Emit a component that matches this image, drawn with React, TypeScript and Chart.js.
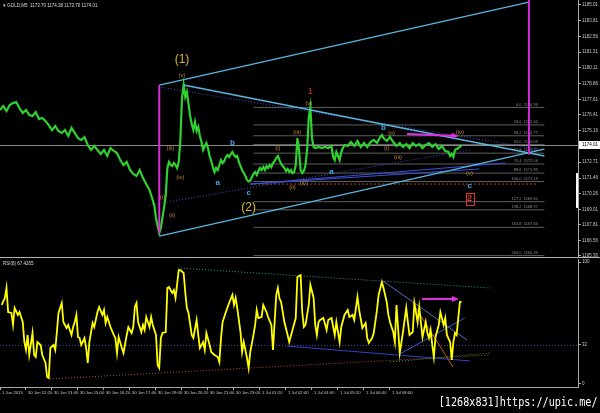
import React, { useEffect, useRef } from 'react';
import { Chart, registerables } from 'chart.js';

Chart.register(...registerables);

// ---------------- data ----------------
const symbolName = 'GOLD,M5';
const lastOhlc = [1173.7, 1174.38, 1173.7, 1174.01];
const rsiName = 'RSI(8)';
const rsiLast = 67.4265;

const priceBars = [0,2,4,6,8,10,12,14,16,18,20,22,24,26,28,30,32,34,36,38,40,42,44,46,48,50,52,54,56,58,60,62,64,66,68,70,72,74,76,78,80,82,84,86,88,90,92,94,95,96,97,98,99,100,101,102,103,104,105,106,107,108,109,110,111,112,113,114,115,116,117,118,119,120,121,122,123,124,125,126,127,128,129,130,131,132,133,134,135,136,137,138,139,140,141,142,143,144,145,146,147,148,149,150,151,152,153,154,155,156,157,158,159,160,161,162,163,164,165,166,167,168,169,170,171,172,173,174,175,176,177,178,179,180,181,182,183,184,185,186,187,188,189,190,191,192,193,194,196,198,200,202,204,205,206,207,208,209,210,211,212,214,216,218,220,222,224,226,228,230,232,234,235,236,238,240,242,244,246,248,250,252,254,256,258,260,262,264,266,268,270,272,274,276,277,278,279,280,282,284];
const priceClose = [1176.79,1177.10,1176.71,1177.18,1177.33,1177.41,1176.94,1176.55,1176.79,1176.40,1176.32,1176.63,1176.08,1176.16,1175.93,1175.61,1175.22,1175.53,1175.14,1174.99,1175.22,1174.75,1175.38,1174.99,1174.59,1174.44,1174.67,1174.05,1173.66,1173.97,1173.66,1173.34,1173.66,1173.19,1173.81,1173.58,1173.42,1172.87,1172.48,1172.72,1172.09,1171.78,1171.62,1172.09,1171.46,1170.99,1170.52,1169.74,1169.27,1168.33,1167.70,1167.16,1167.55,1168.41,1169.19,1170.13,1172.25,1172.72,1172.48,1172.40,1172.64,1172.48,1172.25,1172.72,1174.44,1177.73,1178.74,1177.81,1178.20,1177.26,1176.32,1175.69,1175.22,1175.85,1175.14,1175.46,1174.75,1174.28,1173.66,1173.97,1174.20,1173.81,1173.19,1172.79,1172.32,1171.93,1172.25,1172.09,1172.48,1172.87,1172.64,1172.79,1173.11,1173.26,1173.11,1173.34,1173.50,1173.26,1173.11,1173.19,1172.72,1172.40,1172.09,1171.85,1171.62,1171.31,1171.19,1171.25,1171.54,1171.78,1171.93,1171.70,1172.01,1172.25,1172.09,1172.32,1172.09,1172.40,1172.25,1172.48,1172.32,1172.64,1172.79,1173.03,1173.19,1172.87,1172.56,1172.40,1172.25,1172.01,1172.17,1171.93,1172.09,1171.85,1171.93,1172.48,1174.59,1173.66,1172.09,1171.85,1172.01,1172.48,1173.66,1176.16,1176.99,1174.59,1173.89,1173.81,1173.89,1173.81,1173.89,1173.81,1173.97,1173.11,1172.87,1173.50,1173.19,1172.87,1173.50,1173.81,1174.05,1173.97,1174.28,1173.97,1174.36,1173.89,1174.20,1173.89,1174.28,1174.44,1174.20,1174.67,1174.83,1174.59,1174.36,1174.67,1174.28,1173.97,1174.20,1173.89,1174.12,1173.81,1174.20,1173.97,1174.12,1173.81,1174.05,1174.20,1173.89,1174.12,1173.73,1173.97,1173.58,1173.50,1173.19,1173.34,1173.11,1173.66,1173.81,1174.01];

const rsiBars = [1,3,4,5,7,8,9,11,12,14,15,16,17,18,20,21,22,23,25,26,28,29,30,31,33,34,35,36,38,39,41,42,44,45,46,47,48,49,50,52,53,54,55,57,58,60,61,63,64,65,66,68,70,71,72,73,75,76,78,79,81,82,83,84,85,87,88,89,90,92,93,94,96,97,98,99,100,102,103,104,106,107,108,110,111,113,114,115,116,118,119,121,122,123,125,126,127,129,130,132,134,135,136,137,139,141,143,144,145,146,148,149,150,152,153,154,156,157,158,159,161,162,164,165,167,168,169,170,171,172,173,175,177,178,180,182,183,185,186,187,188,190,191,193,194,195,196,197,199,201,202,204,206,207,209,210,212,214,215,217,218,220,221,223,225,226,227,229,230,232,233,235,236,238,239,240,242,243,244,246,248,249,250,251,252,254,255,257,258,259,260,262,263,264,265,266,267,268,270,271,273,274,275,277,278,279,280,281,283,284];
const rsiValues = [64.8,70.5,78.7,59.0,58.2,48.4,62.3,56.6,59.0,50.8,34.4,27.9,40.2,23.8,41.8,23.8,22.1,34.4,32.0,23.8,17.2,5.7,4.9,29.5,32.0,27.9,42.6,58.2,66.4,50.8,45.9,48.4,40.2,46.7,50.8,56.6,38.5,37.7,32.0,37.7,29.5,17.2,34.4,50.0,46.7,59.0,63.1,56.6,60.7,50.0,54.9,46.7,40.2,37.7,25.4,38.5,29.5,25.4,40.2,46.7,41.8,46.7,63.1,66.4,50.8,42.6,48.4,44.3,54.9,46.7,54.9,48.4,40.2,15.6,13.1,37.7,41.8,42.6,78.7,79.5,74.6,77.0,70.5,93.4,93.4,91.0,75.4,62.3,58.2,40.2,37.7,52.5,40.2,29.5,34.4,27.9,41.8,32.0,26.2,23.8,22.1,18.0,37.7,50.8,59.0,66.4,73.0,64.8,70.5,62.3,42.6,26.2,34.4,21.3,13.1,26.2,40.2,48.4,60.7,54.1,54.9,64.8,59.0,54.9,48.4,27.9,50.8,73.0,78.7,70.0,67.2,50.8,40.2,34.4,44.3,54.1,87.7,89.3,59.0,46.7,48.4,64.8,81.1,70.5,48.4,40.2,50.8,52.5,54.1,44.3,52.5,54.1,40.2,50.8,34.4,46.7,56.6,60.7,54.9,56.6,52.5,71.3,60.7,45.9,50.0,37.7,33.6,37.7,41.8,60.7,73.0,83.6,78.7,67.2,56.6,50.8,42.6,34.4,64.8,25.4,42.6,52.5,62.3,50.8,40.2,42.6,66.4,50.8,63.1,50.8,38.5,50.8,41.8,37.7,44.3,32.0,22.1,38.5,48.4,59.0,48.4,54.1,40.2,34.4,19.7,34.4,41.8,40.2,67.2,67.4265];

const timeTickBars = [0,16,32,48,64,80,96,112,128,144,160,176,192,208,224,240];
const timeTickLabels = ['1 Jun 2015','30 Jun 12:20','30 Jun 13:40','30 Jun 15:00','30 Jun 16:20','30 Jun 17:40','30 Jun 19:00','30 Jun 20:20','30 Jun 21:40','30 Jun 23:00','1 Jul 01:20','1 Jul 02:40','1 Jul 04:00','1 Jul 05:20','1 Jul 06:40','1 Jul 08:00'];

const priceTicks = [1185.01,1183.81,1182.56,1181.31,1180.11,1178.86,1177.61,1176.41,1175.16,1172.71,1171.46,1170.26,1169.01,1167.81,1166.56,1165.36];
const rsiTicks = [100, 32, 0];
const rsiLevel = 32;

const fibPercents = ['0.0','23.6','38.2','50.0','61.8','76.4','88.6','100.0','127.2','138.2','161.8','200.0'];
const fibPrices = [1176.99,1175.62,1174.77,1174.09,1173.41,1172.56,1171.85,1171.19,1169.61,1168.97,1167.60,1165.39];

const waveTexts = ['(1)','(v)','(iii)','(iv)','(i)','(ii)','a','b','c','(2)','(i)','(ii)','(iii)','(iv)','(v)','1','a','b','(ii)','(i)','(iii)','(iv)','(v)','c','2'];
const waveBars = [112,112,105,111,100,106,134,143,153,153,171,180,183,187,190,191,204,236,241,238,245,283,289,289,289];
const wavePrices = [1180.70,1179.53,1173.81,1171.54,1169.97,1168.57,1171.07,1174.20,1170.29,1169.11,1173.81,1170.76,1175.06,1171.07,1177.33,1178.27,1171.93,1175.38,1174.99,1173.81,1173.11,1175.06,1171.85,1170.84,1169.82];
const waveDegrees = ['primary','minuette','minuette','minuette','minuette','minuette','abc','abc','abc','primary','minuette','minuette','minuette','minuette','minuette','minor','abc','abc','minuette','minuette','minuette','minuette','minuette','abc','minorBox'];

// trend objects in data units [bar1, value1, bar2, value2]
const wedgeUpper = [98, 1178.74, 325.5, 1185.24];
const wedgeTop = [113, 1178.74, 335, 1173.19];
const wedgeLower = [98, 1166.92, 335, 1173.73];
const channelDotUpper = [98, 1178.59, 335, 1173.66];
const channelDotLower = [92, 1169.35, 289, 1173.66];
const blueLineA = [154, 1170.99, 311, 1172.64];
const blueLineB = [154, 1170.99, 295, 1172.17];
const lowLevel = [154, 1170.99, 330, 1170.99];
const magentaLeft = [98, 1178.74, 98, 1167.16];
const magentaRight = [325.5, 1185.4, 325.5, 1173.3];
const priceArrow = [250.5, 1174.91, 281, 1174.75];
const axisMarkerRange = [1171.85, 1169.12];

const rsiTealDotted = [109.5, 95.1, 301.5, 78.7];
const rsiOrangeDotted = [30.8, 4.1, 301.5, 23.8];
const rsiGreenDotted = [240, 18.0, 301.5, 25.4];
const rsiBlueSolid = [176.6, 31.1, 289.2, 18.9];
const rsiSteelLine = [235.7, 84.4, 287.4, 36.1];
const rsiBlueRising = [246, 24.6, 286, 54.1];
const rsiOrangeSolid = [254, 66.4, 278.8, 13.9];
const rsiArrow = [259.7, 69.7, 281.2, 69.7];

// ---------------- layout / style ----------------
const X_MAX = 355.7;
const PRICE_MIN = 1165.28;
const PRICE_MAX = 1185.4;
const RSI_MIN = -2.46;
const RSI_MAX = 102.46;
const FIB_START = 156;
const FIB_END = 335;
const FIB_LABEL = 331;
const AXIS_COLOR = '#a8a8a8';
const TEXT_COLOR = '#c8c8c8';
const FONT = 'Liberation Sans';

const waveStyles: Record<string, { color: string; size: number; bold: boolean }> = {
  primary: { color: '#d9b43a', size: 12, bold: false },
  minuette: { color: '#c0843a', size: 6, bold: false },
  abc: { color: '#3fa9e6', size: 8, bold: true },
  minor: { color: '#e23030', size: 9, bold: false },
  minorBox: { color: '#e23030', size: 9, bold: true },
};

function toPx(chart: any, x: number, y: number) {
  return [chart.scales.x.getPixelForValue(x), chart.scales.y.getPixelForValue(y)];
}

function drawSeg(chart: any, s: number[], color: string, width: number, dash: number[] = []) {
  const ctx = chart.ctx;
  const a = chart.chartArea;
  const [x1, y1] = toPx(chart, s[0], s[1]);
  const [x2, y2] = toPx(chart, s[2], s[3]);
  ctx.save();
  ctx.beginPath();
  ctx.rect(a.left, a.top, a.right - a.left, a.bottom - a.top);
  ctx.clip();
  ctx.strokeStyle = color;
  ctx.lineWidth = width;
  ctx.setLineDash(dash);
  ctx.beginPath();
  ctx.moveTo(x1, y1);
  ctx.lineTo(x2, y2);
  ctx.stroke();
  ctx.restore();
}

function drawArrow(chart: any, s: number[], color: string) {
  const ctx = chart.ctx;
  const [x1, y1] = toPx(chart, s[0], s[1]);
  const [x2, y2] = toPx(chart, s[2], s[3]);
  const ang = Math.atan2(y2 - y1, x2 - x1);
  ctx.save();
  ctx.strokeStyle = color;
  ctx.fillStyle = color;
  ctx.lineWidth = 2;
  ctx.beginPath();
  ctx.moveTo(x1, y1);
  ctx.lineTo(x2 - 4 * Math.cos(ang), y2 - 4 * Math.sin(ang));
  ctx.stroke();
  ctx.beginPath();
  ctx.moveTo(x2 + 2 * Math.cos(ang), y2 + 2 * Math.sin(ang));
  ctx.lineTo(x2 - 5 * Math.cos(ang) - 3 * Math.sin(ang), y2 - 5 * Math.sin(ang) + 3 * Math.cos(ang));
  ctx.lineTo(x2 - 5 * Math.cos(ang) + 3 * Math.sin(ang), y2 - 5 * Math.sin(ang) - 3 * Math.cos(ang));
  ctx.closePath();
  ctx.fill();
  ctx.restore();
}

const mainOverlay = {
  id: 'mainOverlay',
  beforeDatasetsDraw(chart: any) {
    const ctx = chart.ctx;
    const a = chart.chartArea;
    const ys = chart.scales.y;
    const xs = chart.scales.x;
    // fibonacci levels
    fibPrices.forEach((p, i) => {
      drawSeg(chart, [FIB_START, p, FIB_END, p], '#5e5e5e', 1);
      ctx.save();
      ctx.fillStyle = '#8c8c8c';
      ctx.font = `4px ${FONT}`;
      ctx.textAlign = 'right';
      ctx.textBaseline = 'bottom';
      ctx.fillText(`${fibPercents[i]}  ${p.toFixed(2)}`, xs.getPixelForValue(FIB_LABEL), ys.getPixelForValue(p) - 1);
      ctx.restore();
    });
    // bid line
    const yb = Math.round(ys.getPixelForValue(lastOhlc[3])) + 0.5;
    ctx.save();
    ctx.strokeStyle = '#8a8a8a';
    ctx.lineWidth = 1;
    ctx.beginPath();
    ctx.moveTo(a.left, yb);
    ctx.lineTo(a.right, yb);
    ctx.stroke();
    ctx.restore();
    drawSeg(chart, lowLevel, '#b0501e', 1, [2, 2]);
    drawSeg(chart, channelDotUpper, '#4650c0', 1, [1, 2]);
    drawSeg(chart, channelDotLower, '#4650c0', 1, [1, 2]);
  },
  afterDatasetsDraw(chart: any) {
    const ctx = chart.ctx;
    const ys = chart.scales.y;
    const xs = chart.scales.x;
    drawSeg(chart, blueLineA, '#3c4fd8', 1);
    drawSeg(chart, blueLineB, '#3c4fd8', 1);
    drawSeg(chart, wedgeUpper, '#58b6df', 1.2);
    drawSeg(chart, wedgeTop, '#58b6df', 1.6);
    drawSeg(chart, wedgeLower, '#58b6df', 1.2);
    drawSeg(chart, magentaLeft, '#d82ad8', 2);
    drawSeg(chart, magentaRight, '#d82ad8', 2);
    drawArrow(chart, priceArrow, '#e030e0');
    // wave labels
    waveTexts.forEach((t, i) => {
      const st = waveStyles[waveDegrees[i]];
      const x = xs.getPixelForValue(waveBars[i]);
      const y = ys.getPixelForValue(wavePrices[i]);
      ctx.save();
      ctx.font = `${st.bold ? 'bold ' : ''}${st.size}px ${FONT}`;
      ctx.fillStyle = st.color;
      ctx.textAlign = 'center';
      ctx.textBaseline = 'middle';
      ctx.fillText(t, x, y);
      if (waveDegrees[i] === 'minorBox') {
        ctx.strokeStyle = st.color;
        ctx.lineWidth = 1;
        ctx.strokeRect(Math.round(x - 4) + 0.5, Math.round(y - 6) + 0.5, 8, 12);
      }
      ctx.restore();
    });
    // title
    ctx.save();
    ctx.fillStyle = '#dcdcdc';
    ctx.font = `4.5px ${FONT}`;
    ctx.textAlign = 'left';
    ctx.textBaseline = 'middle';
    ctx.fillText(`\u25BE ${symbolName}  ${lastOhlc.map((v) => v.toFixed(2)).join(' ')}`, 3, 6);
    ctx.restore();
  },
  afterDraw(chart: any) {
    const ctx = chart.ctx;
    const a = chart.chartArea;
    const ys = chart.scales.y;
    const y = ys.getPixelForValue(lastOhlc[3]);
    ctx.save();
    ctx.fillStyle = '#ffffff';
    ctx.fillRect(a.right + 1, Math.round(y) - 4, chart.width - a.right - 1, 8);
    ctx.fillStyle = '#000000';
    ctx.font = `4.5px ${FONT}`;
    ctx.textAlign = 'left';
    ctx.textBaseline = 'middle';
    ctx.fillText(lastOhlc[3].toFixed(2), a.right + 4, Math.round(y));
    // axis marker
    const m1 = ys.getPixelForValue(axisMarkerRange[0]);
    const m2 = ys.getPixelForValue(axisMarkerRange[1]);
    ctx.fillRect(a.right - 2, m1, 2, m2 - m1);
    ctx.fillStyle = '#ffffff';
    ctx.fillRect(a.right - 2, m1, 2, m2 - m1);
    // separator
    ctx.fillStyle = '#b4b4b4';
    ctx.fillRect(0, a.bottom, chart.width, 1);
    ctx.fillStyle = '#6a6a6a';
    ctx.fillRect(0, a.bottom + 1, chart.width, 1);
    ctx.restore();
  },
};

const rsiOverlay = {
  id: 'rsiOverlay',
  beforeDatasetsDraw(chart: any) {
    const ctx = chart.ctx;
    const a = chart.chartArea;
    const ys = chart.scales.y;
    const yl = Math.round(ys.getPixelForValue(rsiLevel)) + 0.5;
    ctx.save();
    ctx.strokeStyle = '#3a48b0';
    ctx.setLineDash([1, 2]);
    ctx.beginPath();
    ctx.moveTo(a.left, yl);
    ctx.lineTo(a.right, yl);
    ctx.stroke();
    ctx.restore();
    drawSeg(chart, rsiTealDotted, '#2f9c8e', 1, [1, 2]);
    drawSeg(chart, rsiOrangeDotted, '#b4501e', 1, [1, 2]);
    drawSeg(chart, rsiGreenDotted, '#3aa04a', 1, [1, 2]);
    drawSeg(chart, rsiBlueSolid, '#3440c8', 1);
    drawSeg(chart, rsiSteelLine, '#5070c0', 1);
    drawSeg(chart, rsiBlueRising, '#3a5ad0', 1);
    drawSeg(chart, rsiOrangeSolid, '#c0601e', 1);
  },
  afterDatasetsDraw(chart: any) {
    const ctx = chart.ctx;
    drawArrow(chart, rsiArrow, '#e030e0');
    ctx.save();
    ctx.fillStyle = '#dcdcdc';
    ctx.font = `4.5px ${FONT}`;
    ctx.textAlign = 'left';
    ctx.textBaseline = 'middle';
    ctx.fillText(`${rsiName} ${rsiLast.toFixed(4)}`, 3, chart.chartArea.top + 5);
    ctx.restore();
  },
};

export default function App() {
  const mainRef = useRef<HTMLCanvasElement>(null);
  const rsiRef = useRef<HTMLCanvasElement>(null);

  useEffect(() => {
    document.body.style.margin = '0';
    document.body.style.background = '#000';
    const mainChart = new Chart(mainRef.current as HTMLCanvasElement, {
      type: 'line',
      data: {
        datasets: [
          {
            data: priceBars.map((b, i) => ({ x: b, y: priceClose[i] })),
            borderColor: '#2fd02f',
            borderWidth: 2.2,
            pointRadius: 0,
            tension: 0,
          },
        ],
      },
      options: {
        responsive: false,
        animation: false,
        devicePixelRatio: 1,
        layout: { padding: { left: 0, right: 0, top: 0, bottom: 1 } },
        plugins: { legend: { display: false }, tooltip: { enabled: false } },
        scales: {
          x: { type: 'linear', min: 0, max: X_MAX, display: false },
          y: {
            position: 'right',
            min: PRICE_MIN,
            max: PRICE_MAX,
            afterBuildTicks: (s: any) => {
              s.ticks = priceTicks.map((v) => ({ value: v }));
            },
            afterFit: (s: any) => {
              s.width = 22;
              s.paddingTop = 0;
              s.paddingBottom = 0;
            },
            ticks: {
              color: TEXT_COLOR,
              font: { size: 4.5, family: FONT },
              padding: 1,
              callback: (v: any) => Number(v).toFixed(2),
            },
            grid: { drawOnChartArea: false, color: AXIS_COLOR, tickLength: 3 },
            border: { color: AXIS_COLOR },
          },
        },
      } as any,
      plugins: [mainOverlay],
    });

    const rsiChart = new Chart(rsiRef.current as HTMLCanvasElement, {
      type: 'line',
      data: {
        datasets: [
          {
            data: rsiBars.map((b, i) => ({ x: b, y: rsiValues[i] })),
            borderColor: '#ffff00',
            borderWidth: 1.8,
            pointRadius: 0,
            tension: 0,
          },
        ],
      },
      options: {
        responsive: false,
        animation: false,
        devicePixelRatio: 1,
        layout: { padding: { left: 0, right: 0, top: 1, bottom: 0 } },
        plugins: { legend: { display: false }, tooltip: { enabled: false } },
        scales: {
          x: {
            type: 'linear',
            min: 0,
            max: X_MAX,
            position: 'bottom',
            afterBuildTicks: (s: any) => {
              s.ticks = timeTickBars.map((v) => ({ value: v }));
            },
            afterFit: (s: any) => {
              s.height = 26;
              s.paddingLeft = 0;
              s.paddingRight = 0;
            },
            ticks: {
              autoSkip: false,
              maxRotation: 0,
              minRotation: 0,
              align: 'start',
              labelOffset: 2,
              padding: 0,
              color: TEXT_COLOR,
              font: { size: 4.2, family: FONT },
              callback: (_v: any, i: number) => timeTickLabels[i],
            },
            grid: { drawOnChartArea: false, color: AXIS_COLOR, tickLength: 3 },
            border: { color: AXIS_COLOR },
          },
          y: {
            position: 'right',
            min: RSI_MIN,
            max: RSI_MAX,
            afterBuildTicks: (s: any) => {
              s.ticks = rsiTicks.map((v) => ({ value: v }));
            },
            afterFit: (s: any) => {
              s.width = 22;
              s.paddingTop = 0;
              s.paddingBottom = 0;
            },
            ticks: {
              color: TEXT_COLOR,
              font: { size: 4.5, family: FONT },
              padding: 1,
              callback: (v: any) => String(v),
            },
            grid: { drawOnChartArea: false, color: AXIS_COLOR, tickLength: 3 },
            border: { color: AXIS_COLOR },
          },
        },
      } as any,
      plugins: [rsiOverlay],
    });

    return () => {
      mainChart.destroy();
      rsiChart.destroy();
    };
  }, []);

  return (
    <div
      style={{
        position: 'fixed',
        left: 0,
        top: 0,
        width: 600,
        height: 413,
        background: '#000',
        overflow: 'hidden',
      }}
    >
      <canvas
        ref={mainRef}
        width={600}
        height={258}
        style={{ position: 'absolute', left: 0, top: 0, width: 600, height: 258 }}
      />
      <canvas
        ref={rsiRef}
        width={600}
        height={155}
        style={{ position: 'absolute', left: 0, top: 258, width: 600, height: 155 }}
      />
      <div
        style={{
          position: 'absolute',
          right: 3,
          top: 394,
          color: '#ffffff',
          fontFamily: 'DejaVu Sans Mono',
          fontSize: 13,
          lineHeight: '16px',
          whiteSpace: 'nowrap',
          transform: 'scaleX(0.78)',
          transformOrigin: 'right top',
        }}
      >
        [1268x831]https://upic.me/
      </div>
    </div>
  );
}
